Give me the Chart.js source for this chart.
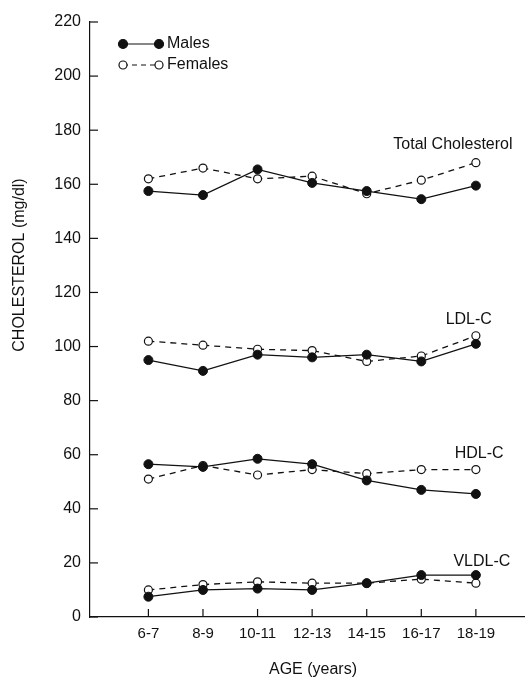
<!DOCTYPE html>
<html lang="en">
<head>
  <meta charset="UTF-8">
  <title>Cholesterol by age</title>
  <script src="https://cdn.jsdelivr.net/npm/chart.js"></script>
  <style>
    * { box-sizing: border-box; }
    body { margin: 0; background: #fff; }
    #chart { display: block; }
  </style>
</head>
<body>
  <canvas id="chart" width="525" height="677"></canvas>

  <script>
    // values (mg/dl)
    const ageGroups = ['6-7', '8-9', '10-11', '12-13', '14-15', '16-17', '18-19'];
    const totalMales   = [157.5, 156, 165.5, 160.5, 157.5, 154.5, 159.5];
    const totalFemales = [162, 166, 162, 163, 156.5, 161.5, 168];
    const ldlMales     = [95, 91, 97, 96, 97, 94.5, 101];
    const ldlFemales   = [102, 100.5, 99, 98.5, 94.5, 96.5, 104];
    const hdlMales     = [56.5, 55.5, 58.5, 56.5, 50.5, 47, 45.5];
    const hdlFemales   = [51, 56, 52.5, 54.5, 53, 54.5, 54.5];
    const vldlMales    = [7.5, 10, 10.5, 10, 12.5, 15.5, 15.5];
    const vldlFemales  = [10, 12, 13, 12.5, 12.5, 14, 12.5];

    // curve names written next to each pair of lines (x in age-group index, y in mg/dl)
    const curveNames = ['Total Cholesterol', 'LDL-C', 'HDL-C', 'VLDL-C'];
    const curveNameX = [5.58, 5.87, 6.06, 6.11];
    const curveNameY = [174.5, 110, 60.5, 20.5];

    const INK = '#111';
    const FONT = '"Liberation Sans", Arial, sans-serif';

    function toPoints(arr) {
      return arr.map((v, i) => ({ x: i, y: v }));
    }

    function male(arr) {
      return {
        data: toPoints(arr),
        borderColor: INK,
        borderWidth: 1.3,
        pointRadius: 4.5,
        pointBackgroundColor: INK,
        pointBorderColor: INK,
        pointBorderWidth: 1,
        tension: 0
      };
    }

    function female(arr) {
      return {
        data: toPoints(arr),
        borderColor: INK,
        borderWidth: 1.3,
        borderDash: [6, 5],
        pointRadius: 4,
        pointBackgroundColor: '#fff',
        pointBorderColor: INK,
        pointBorderWidth: 1.2,
        tension: 0
      };
    }

    // tick marks pointing inwards, legend, curve names and axis titles
    const extras = {
      id: 'extras',
      afterDraw(chart) {
        const ctx = chart.ctx;
        const xs = chart.scales.x;
        const ys = chart.scales.y;
        const area = chart.chartArea;
        ctx.save();
        ctx.strokeStyle = INK;
        ctx.lineWidth = 1.2;

        ys.ticks.forEach(t => {
          const y = ys.getPixelForValue(t.value);
          ctx.beginPath();
          ctx.moveTo(area.left, y);
          ctx.lineTo(area.left + 8, y);
          ctx.stroke();
        });
        xs.ticks.forEach(t => {
          const x = xs.getPixelForValue(t.value);
          ctx.beginPath();
          ctx.moveTo(x, area.bottom);
          ctx.lineTo(x, area.bottom - 8);
          ctx.stroke();
        });

        // legend
        const lx1 = 123, lx2 = 159;
        [[44, true, 'Males'], [65, false, 'Females']].forEach(([ly, filled, text]) => {
          ctx.setLineDash(filled ? [] : [5, 4]);
          ctx.beginPath();
          ctx.moveTo(lx1, ly);
          ctx.lineTo(lx2, ly);
          ctx.stroke();
          ctx.setLineDash([]);
          [lx1, lx2].forEach(px => {
            ctx.beginPath();
            ctx.arc(px, ly, filled ? 4.5 : 4, 0, Math.PI * 2);
            ctx.fillStyle = filled ? INK : '#fff';
            ctx.fill();
            ctx.stroke();
          });
          ctx.fillStyle = INK;
          ctx.font = '16px ' + FONT;
          ctx.textAlign = 'left';
          ctx.textBaseline = 'middle';
          ctx.fillText(text, 167, ly);
        });

        // curve names
        ctx.font = '16px ' + FONT;
        ctx.textAlign = 'center';
        ctx.textBaseline = 'middle';
        curveNames.forEach((name, i) => {
          ctx.fillText(name, xs.getPixelForValue(curveNameX[i]), ys.getPixelForValue(curveNameY[i]));
        });

        // axis titles
        ctx.fillText('AGE (years)', 313, 670);
        ctx.translate(20, 265);
        ctx.rotate(-Math.PI / 2);
        ctx.fillText('CHOLESTEROL (mg/dl)', 0, 0);
        ctx.restore();
      }
    };

    new Chart(document.getElementById('chart'), {
      type: 'line',
      data: {
        datasets: [
          male(totalMales), male(ldlMales), male(hdlMales), male(vldlMales),
          female(totalFemales), female(ldlFemales), female(hdlFemales), female(vldlFemales)
        ]
      },
      options: {
        responsive: false,
        animation: false,
        layout: { autoPadding: false, padding: { top: 22, left: 0, right: 0, bottom: 0 } },
        plugins: {
          legend: { display: false },
          tooltip: { enabled: false }
        },
        scales: {
          x: {
            type: 'linear',
            min: -1.07,
            max: 6.9,
            afterBuildTicks: scale => {
              scale.ticks = ageGroups.map((_, i) => ({ value: i }));
            },
            afterFit: scale => { scale.height = 60; },
            grid: { display: false, drawTicks: false },
            border: { color: INK, width: 1.2 },
            ticks: {
              padding: 8,
              color: INK,
              font: { family: FONT, size: 15 },
              maxRotation: 0,
              autoSkip: false,
              callback: v => ageGroups[v] ?? ''
            }
          },
          y: {
            min: 0,
            max: 220,
            afterFit: scale => { scale.width = 90; },
            grid: { display: false, drawTicks: false },
            border: { color: INK, width: 1.2 },
            ticks: {
              stepSize: 20,
              padding: 9,
              color: INK,
              font: { family: FONT, size: 16 }
            }
          }
        }
      },
      plugins: [extras]
    });
  </script>
</body>
</html>
